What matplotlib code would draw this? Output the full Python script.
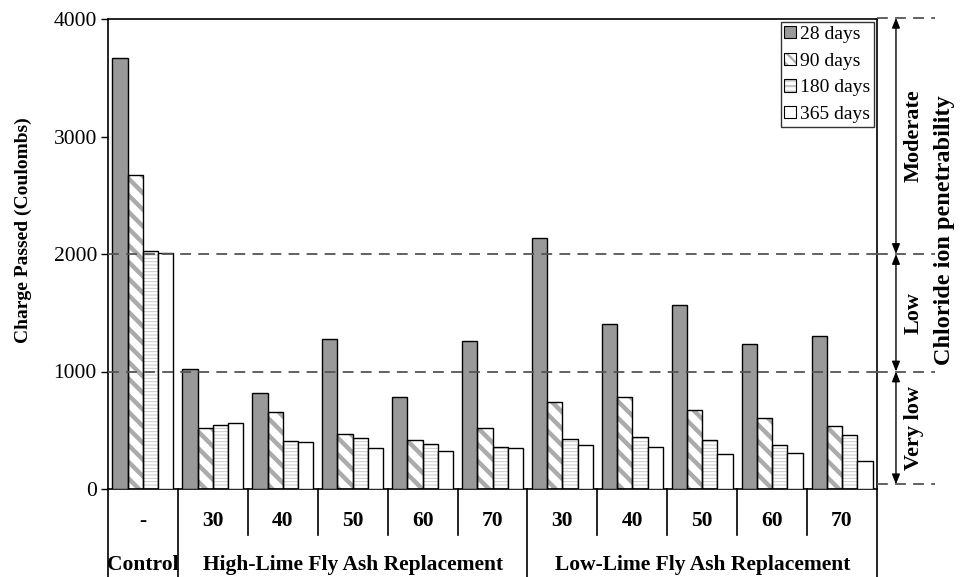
import matplotlib
matplotlib.use("Agg")
import matplotlib.pyplot as plt
from matplotlib.transforms import blended_transform_factory
from matplotlib.patches import FancyArrowPatch, Patch
from matplotlib.legend_handler import HandlerTuple
import numpy as np

# ---------------- data ----------------
groups = ["-", "30", "40", "50", "60", "70", "30", "40", "50", "60", "70"]
series = ["28 days", "90 days", "180 days", "365 days"]
d28 = [3665, 1018, 814, 1274, 780, 1260, 2139, 1401, 1563, 1237, 1305]
d90 = [2672, 522, 653, 465, 417, 516, 738, 786, 672, 601, 539]
d180 = [2025, 542, 408, 437, 380, 360, 425, 445, 420, 374, 460]
d365 = [2008, 559, 400, 349, 321, 346, 374, 360, 301, 309, 241]
sections = ["Control", "High-Lime Fly Ash Replacement", "Low-Lime Fly Ash Replacement"]
section_spans = [(0, 0), (1, 5), (6, 10)]
yticks = [0, 1000, 2000, 3000, 4000]
thresholds = [2000, 1000]
class_bounds = [4010, 2000, 1000, 40]
class_names = ["Moderate", "Low", "Very low"]

plt.rcParams['font.family'] = ['Liberation Serif', 'DejaVu Serif']

fig = plt.figure(figsize=(9.63, 5.77), dpi=100)
ax = fig.add_axes([108/963, 88/577, (877-108)/963, (489-19)/577])

x = np.arange(len(groups))
w = 0.218
values = [d28, d90, d180, d365]
faces = ["#999999", "white", "white", "white"]
hatches = [None, "\\\\", "-----", None]
hcolors = [None, "#ababab", "#c6c6c6", None]
hlw = [None, 3.2, 0.7, None]

for k in range(4):
    pos = x + (k - 1.5) * w
    if hatches[k]:
        plt.rcParams['hatch.linewidth'] = hlw[k]
        hb = ax.bar(pos, values[k], w, color=faces[k], edgecolor=hcolors[k],
                    hatch=hatches[k], linewidth=0, zorder=2)
        for p in hb:
            if hasattr(p, "set_hatch_linewidth"):
                p.set_hatch_linewidth(hlw[k])
    ax.bar(pos, values[k], w, facecolor=faces[k] if not hatches[k] else "none",
           edgecolor="black", linewidth=1.0, zorder=3)

# legend proxies
plt.rcParams['hatch.linewidth'] = 1.6
leg_handles = []
leg_hatch = [None, "\\\\\\", "---", None]
for k in range(4):
    outline = Patch(facecolor=faces[k] if not leg_hatch[k] else "none",
                    edgecolor="black", linewidth=0.8)
    if leg_hatch[k]:
        hp = Patch(facecolor="white", edgecolor=hcolors[k], linewidth=0,
                   hatch=leg_hatch[k])
        leg_handles.append((hp, outline))
    else:
        leg_handles.append(outline)
leg = ax.legend(leg_handles, series, loc="upper right", fontsize=14,
                frameon=True, fancybox=False, edgecolor="black",
                handler_map={tuple: HandlerTuple(ndivide=1, pad=0)},
                handlelength=0.6, handleheight=0.6, handletextpad=0.2,
                borderpad=0.2, labelspacing=0.5, borderaxespad=0.15)
leg.get_frame().set_linewidth(1.0)
leg.set_zorder(6)

ax.set_xlim(-0.5, len(groups) - 0.5)
ax.set_ylim(0, 4000)
ax.set_yticks(yticks)
ax.set_yticklabels([str(t) for t in yticks], fontsize=15.5)
ax.tick_params(axis='y', direction='out', length=5, width=1, pad=3)
ax.set_xticks([])
ax.set_ylabel("Charge Passed (Coulombs)", fontsize=14, fontweight='bold')
ax.yaxis.set_label_coords(-0.099, 0.551)
for s in ax.spines.values():
    s.set_linewidth(1.2)

# thresholds inside plot
for t in thresholds:
    ax.axhline(t, color="#555555", linestyle=(0, (6, 4)), linewidth=1.3, zorder=4)

trans = blended_transform_factory(ax.transData, ax.transAxes)
# category table
for i in range(len(groups) + 1):
    xb = i - 0.5
    outer = i in (0, 1, 6, len(groups))
    ybot = -0.19 if outer else -0.097
    ax.plot([xb, xb], [0, ybot], transform=trans, color="black", linewidth=1.2,
            clip_on=False)
for i, g in enumerate(groups):
    ax.text(i, -0.069, g, transform=trans, ha="center", va="center",
            fontsize=15.5, fontweight="bold")
for name, (a, b2) in zip(sections, section_spans):
    ax.text((a + b2) / 2, -0.162, name, transform=trans, ha="center", va="center",
            fontsize=15.5, fontweight="bold")

# right-hand classification
xr0, xr1 = len(groups) - 0.5, len(groups) - 0.5 + (935 - 877) / 70
xarrow = len(groups) - 0.5 + (896 - 877) / 70
for cb in class_bounds:
    ax.plot([xr0, xr1], [cb, cb], color="#555555", linestyle=(0, (6, 4)),
            linewidth=1.3, clip_on=False, zorder=4)
for j in range(3):
    arr = FancyArrowPatch((xarrow, class_bounds[j]), (xarrow, class_bounds[j+1]),
                          arrowstyle="<|-|>,head_length=6,head_width=2.4",
                          mutation_scale=1, color="black", linewidth=1.0,
                          clip_on=False, shrinkA=0, shrinkB=0)
    ax.add_patch(arr)
    ax.text(len(groups) - 0.5 + (914 - 877) / 70,
            (class_bounds[j] + class_bounds[j+1]) / 2, class_names[j],
            rotation=90, ha="center", va="center", fontsize=16, fontweight="bold",
            clip_on=False)
ax.text(len(groups) - 0.5 + (945 - 877) / 70, 2200, "Chloride ion penetrability",
        rotation=90, ha="center", va="center", fontsize=17.5, fontweight="bold",
        clip_on=False)

fig.savefig("out.png", dpi=100)
